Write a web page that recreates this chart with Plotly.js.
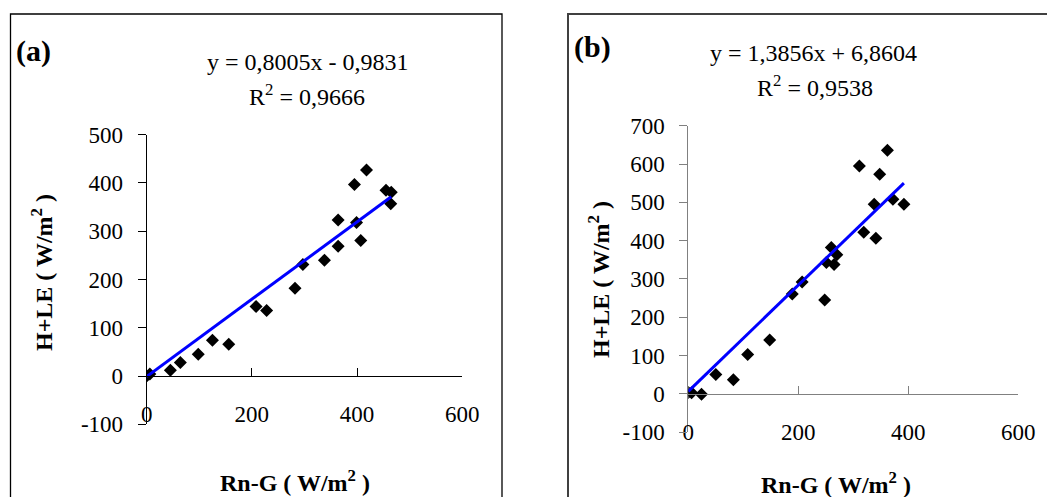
<!DOCTYPE html>
<html>
<head>
<meta charset="utf-8">
<script src="https://cdn.plot.ly/plotly-3.0.1.min.js"></script>
<style>
  body { margin: 0; background: white; }
  #chart { width: 1047px; height: 497px; }
</style>
</head>
<body>
<div id="chart"></div>
<script>
// panel (a) : Rn-G vs H+LE
var rnA = [0, 6, 45, 64, 98, 125, 156, 208, 228, 282, 297, 338, 364, 364, 395, 399, 407, 418, 455, 465, 464];
var hleA = [0, 4, 12, 28, 45, 74, 66, 144, 136, 182, 231, 240, 323, 269, 397, 318, 281, 427, 385, 381, 357];
var slopeA = 0.8005, interA = -0.9831;

// panel (b)
var rnB = [0, 6, 24, 50, 82, 108, 148, 189, 207, 248, 251, 260, 265, 270, 311, 319, 338, 341, 348, 362, 372, 392];
var hleB = [4, 3, -1, 51, 37, 103, 141, 261, 292, 245, 343, 382, 338, 363, 595, 422, 495, 406, 573, 636, 508, 495];
var slopeB = 1.3856, interB = 6.8604;

var xTicks = [0, 200, 400, 600];
var yTicksA = [-100, 0, 100, 200, 300, 400, 500];
var yTicksB = [-100, 0, 100, 200, 300, 400, 500, 600, 700];

function fitLine(xs, m, b) {
  var lo = Math.min.apply(null, xs), hi = Math.max.apply(null, xs);
  return {x: [lo, hi], y: [m * lo + b, m * hi + b]};
}

var serif = 'Liberation Serif, Times New Roman, serif';
var lineA = fitLine(rnA, slopeA, interA);
var lineB = fitLine(rnB, slopeB, interB);

var data = [
  {x: rnA, y: hleA, mode: 'markers', type: 'scatter', xaxis: 'x', yaxis: 'y',
   marker: {symbol: 'diamond', size: 10, color: 'black'}},
  {x: lineA.x, y: lineA.y, mode: 'lines', type: 'scatter', xaxis: 'x', yaxis: 'y',
   line: {color: '#0000ff', width: 3}},
  {x: rnB, y: hleB, mode: 'markers', type: 'scatter', xaxis: 'x2', yaxis: 'y2',
   marker: {symbol: 'diamond', size: 10, color: 'black'}},
  {x: lineB.x, y: lineB.y, mode: 'lines', type: 'scatter', xaxis: 'x2', yaxis: 'y2',
   line: {color: '#0000ff', width: 3}}
];

var domYA = [0.1463, 0.7290];
var domYB = [0.1302, 0.7471];

function xAxis(dom, pos, col) {
  return {
    domain: dom, range: [0, 600], anchor: 'free',
    position: pos, tickvals: xTicks, ticks: 'inside', ticklen: 8, tickcolor: col,
    showline: true, linecolor: col, linewidth: 1, showgrid: false, zeroline: false,
    ticklabelstandoff: 17, tickfont: {family: serif, size: 23, color: 'black'}
  };
}
function yAxis(dom, xAx, rng, vals, col) {
  return {
    domain: dom, range: rng, anchor: xAx, tickvals: vals,
    ticktext: vals.map(function (v) { return String(v).replace('\u2212', '-'); }),
    ticks: 'outside', ticklen: 8,
    tickcolor: col, showline: true, linecolor: col, linewidth: 1, showgrid: false,
    zeroline: false, ticklabelstandoff: 10, tickfont: {family: serif, size: 23, color: 'black'}
  };
}

var layout = {
  width: 1047, height: 497,
  margin: {l: 0, r: 0, t: 0, b: 0},
  showlegend: false,
  paper_bgcolor: 'white', plot_bgcolor: 'white',
  font: {family: serif, color: 'black'},
  xaxis: xAxis([0.1401, 0.4415], domYA[0] + (domYA[1] - domYA[0]) / 6, 'black'),
  yaxis: yAxis(domYA, 'x', [-100, 500], yTicksA, 'black'),
  xaxis2: xAxis([0.6574, 0.9726], domYB[0] + (domYB[1] - domYB[0]) / 8, '#808080'),
  yaxis2: yAxis(domYB, 'x2', [-100, 700], yTicksB, '#808080'),
  shapes: [
    {type: 'rect', xref: 'paper', yref: 'paper', x0: 10.5 / 1047, x1: 502 / 1047,
     y0: -0.05, y1: 1 - 14 / 497, line: {color: 'black', width: 1.3}},
    {type: 'rect', xref: 'paper', yref: 'paper', x0: 568 / 1047, x1: 1.05,
     y0: -0.05, y1: 1 - 14 / 497, line: {color: '#404040', width: 2}}
  ],
  annotations: [
    {text: '<b>(a)</b>', x: 14 / 1047, y: 1 - 51 / 497, xanchor: 'left'},
    {text: 'y = 0,8005x - 0,9831', x: 308 / 1047, y: 1 - 62 / 497},
    {text: 'R<sup>2</sup> = 0,9666', x: 307 / 1047, y: 1 - 95 / 497},
    {text: '<b>Rn-G ( W/m<sup>2</sup> )</b>', x: 295 / 1047, y: 1 - 481 / 497},
    {text: '<b>H+LE ( W/m<sup>2</sup> )</b>', x: 42 / 1047, y: 1 - 273 / 497, textangle: -90},
    {text: '<b>(b)</b>', x: 572 / 1047, y: 1 - 47 / 497, xanchor: 'left'},
    {text: 'y = 1,3856x + 6,8604', x: 813 / 1047, y: 1 - 53 / 497},
    {text: 'R<sup>2</sup> = 0,9538', x: 815 / 1047, y: 1 - 86 / 497},
    {text: '<b>Rn-G ( W/m<sup>2</sup> )</b>', x: 836 / 1047, y: 1 - 483 / 497},
    {text: '<b>H+LE ( W/m<sup>2</sup> )</b>', x: 599 / 1047, y: 1 - 280 / 497, textangle: -90}
  ].map(function (a) {
    var big = a.text.indexOf('(a)') >= 0 || a.text.indexOf('(b)') >= 0;
    return Object.assign({xref: 'paper', yref: 'paper', showarrow: false,
      xanchor: 'center', yanchor: 'middle', font: {size: big ? 30 : 24}}, a);
  })
};

Plotly.newPlot('chart', data, layout, {staticPlot: true});
</script>
</body>
</html>
